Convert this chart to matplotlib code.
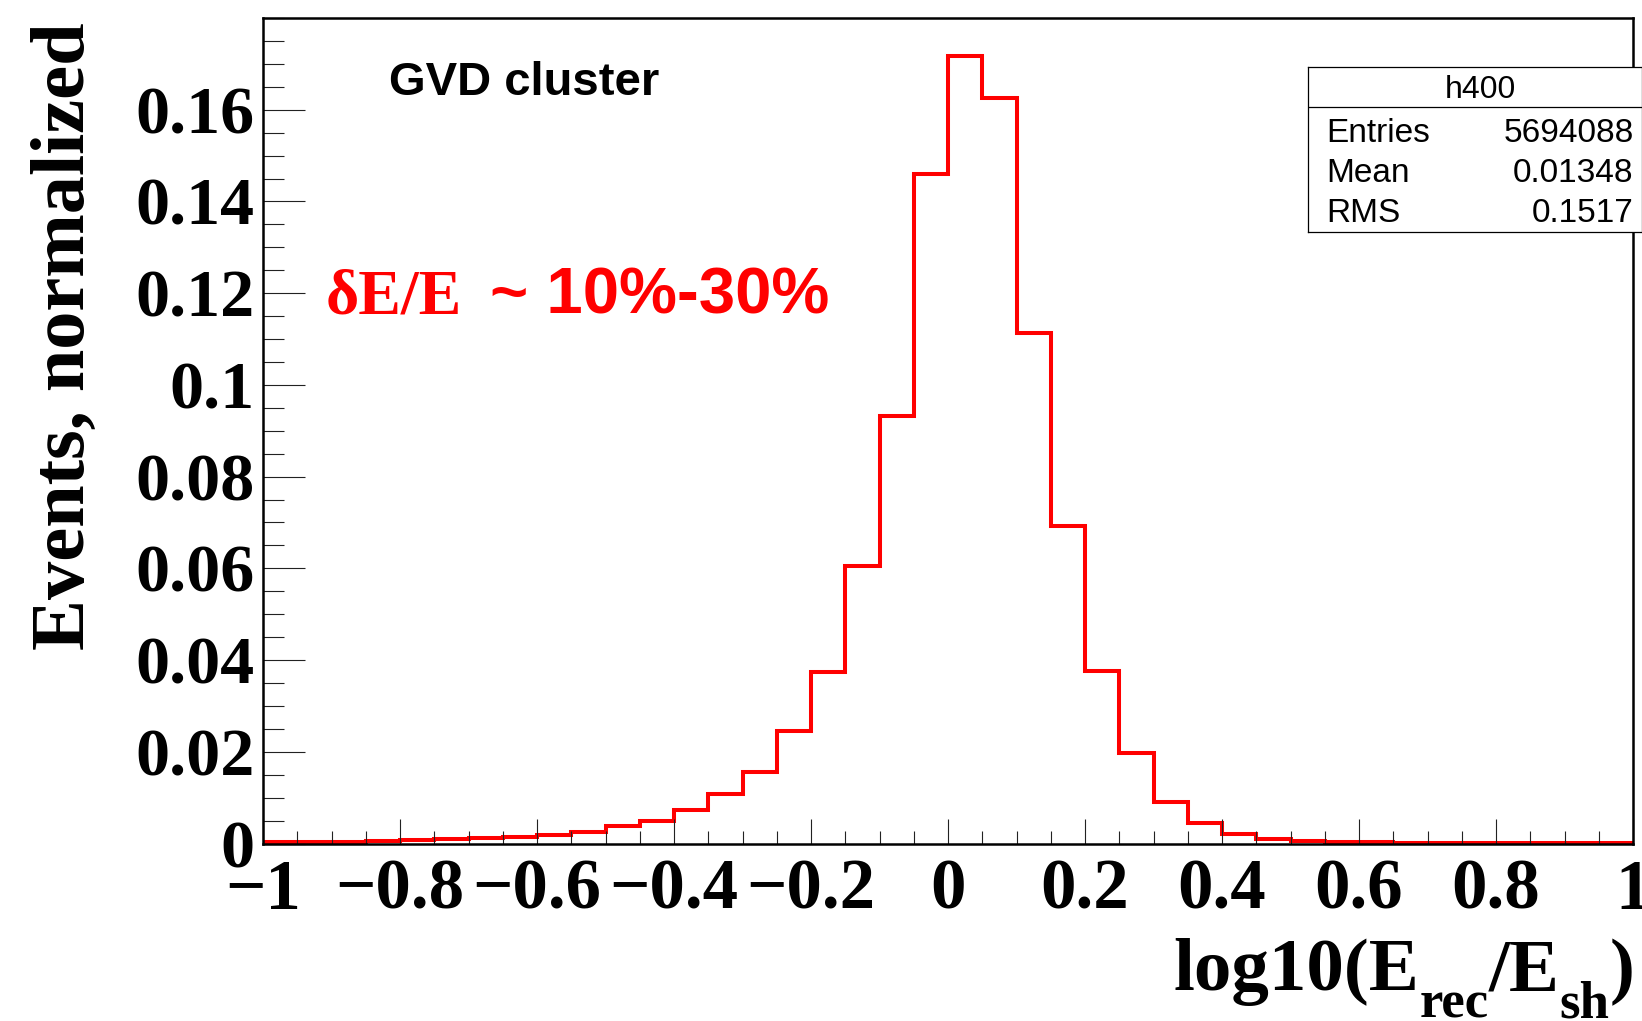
import numpy as np
import matplotlib
matplotlib.use("Agg")
import matplotlib.pyplot as plt
from matplotlib.ticker import MultipleLocator, FuncFormatter

plt.rcParams["font.family"] = "Liberation Serif"
plt.rcParams["font.weight"] = "bold"

# 40 bins of log10(E_rec/E_sh) on [-1, 1], normalized counts
x_lo, x_hi, n_bins = -1.0, 1.0, 40
counts = [
    0.0003, 0.0003, 0.0004, 0.0006, 0.0007, 0.0009, 0.0012, 0.0014,
    0.0018, 0.0026, 0.0039, 0.0050, 0.0074, 0.0109, 0.0155, 0.0245,
    0.0375, 0.0604, 0.0932, 0.1459,
    0.1718, 0.1626, 0.1114, 0.0692, 0.0377, 0.0197, 0.0091, 0.0044,
    0.0020, 0.0010, 0.0006, 0.0004, 0.0003, 0.0002, 0.0002, 0.0002,
    0.0002, 0.0001, 0.0001, 0.0001,
]
edges = np.linspace(x_lo, x_hi, n_bins + 1)

hist_name = "h400"
stat_names = ["Entries", "Mean", "RMS"]
stat_values = ["5694088", "0.01348", "0.1517"]

W, H = 1642, 1021
fig = plt.figure(figsize=(W / 100, H / 100), dpi=100)
ax = fig.add_axes([263 / W, 1 - 843.5 / H, (1633 - 263) / W, (843.5 - 18) / H])

ax.stairs(counts, edges, color="red", lw=2.9, baseline=0)
ax.set_xlim(x_lo, x_hi)
ax.set_ylim(0, 0.18)

for s in ax.spines.values():
    s.set_linewidth(1.8)

ax.xaxis.set_major_locator(MultipleLocator(0.2))
ax.xaxis.set_minor_locator(MultipleLocator(0.05))
ax.set_yticks(np.arange(0, 0.161, 0.02))
ax.yaxis.set_minor_locator(MultipleLocator(0.005))

fmt = FuncFormatter(lambda v, p: f"{v:.10g}".replace("-", "\u2212") if abs(v) > 1e-9 else "0")
ax.xaxis.set_major_formatter(fmt)
ax.yaxis.set_major_formatter(fmt)

ax.tick_params(which="both", direction="in", top=False, right=False, width=0.8, color="#222222")
ax.tick_params(axis="y", which="major", length=30, pad=6, labelsize=49)
ax.tick_params(axis="y", which="minor", length=15)
ax.tick_params(axis="x", which="major", length=18, pad=11, labelsize=51)
ax.tick_params(axis="x", which="minor", length=9.4)

# x title built piecewise so the subscripts sit low like ROOT's #font[22]
renderer = fig.canvas.get_renderer()
pieces = [("log10(E", 54, 0), ("rec", 38, -27), ("/E", 54, 0), ("sh", 38, -27), (")", 54, 0)]
x_px, base_px = 1634, H - 990
for txt, size, dy in reversed(pieces):
    t = fig.text(x_px / W, (base_px + dy) / H, txt, ha="right", va="baseline", fontsize=size)
    x_px -= t.get_window_extent(renderer).width

fig.text(65 / W, 1 - 22 / H, "Events, normalized", rotation=90,
         ha="center", va="top", fontsize=55)

# annotations inside the frame
fig.text(389 / W, 1 - 95 / H, "GVD cluster", family="Liberation Sans",
         weight="bold", fontsize=34, va="baseline")
fig.text(326 / W, 1 - 313 / H, "\u03b4E/E", color="red", fontsize=46, va="baseline")
fig.text(490 / W, 1 - 313 / H, "~ 10%-30%", color="red", fontsize=47,
         family="Liberation Sans", weight="bold", va="baseline")

# stats box
bx = fig.add_axes([1308 / W, 1 - 232 / H, (1642 - 1308) / W, (232 - 67) / H], zorder=5)
bx.set_xlim(0, 1)
bx.set_ylim(0, 1)
bx.set_xticks([])
bx.set_yticks([])
for s in bx.spines.values():
    s.set_linewidth(0.9)
bx.axhline(0.76, color="black", lw=0.9)
sans = dict(family="Liberation Sans", weight="normal")
bx.text(0.517, 0.86, hist_name, ha="center", va="center", fontsize=23, **sans)
for name, val, yy in zip(stat_names, stat_values, [0.60, 0.355, 0.11]):
    bx.text(0.056, yy, name, ha="left", va="center", fontsize=24, **sans)
    bx.text(0.975, yy, val, ha="right", va="center", fontsize=24, **sans)

fig.savefig("out.png", dpi=100, facecolor="white")
